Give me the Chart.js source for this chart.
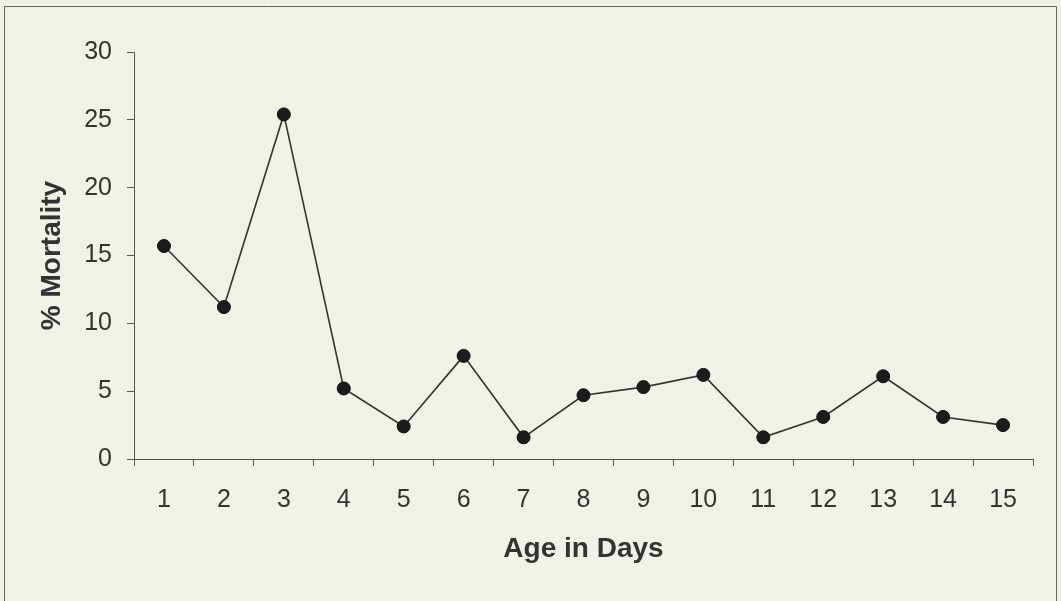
<!DOCTYPE html>
<html>
<head>
<meta charset="utf-8">
<script src="https://cdn.jsdelivr.net/npm/chart.js@4"></script>
<style>
  html, body { margin: 0; padding: 0; background: #f1f1e7; }
  #wrap { width: 1061px; height: 601px; position: relative; }
</style>
</head>
<body>
<div id="wrap"><canvas id="myChart"></canvas></div>
<script>
const days = ["1","2","3","4","5","6","7","8","9","10","11","12","13","14","15"];
const mortality = [15.7, 11.2, 25.4, 5.2, 2.4, 7.6, 1.6, 4.7, 5.3, 6.2, 1.6, 3.1, 6.1, 3.1, 2.5];
const yTicks = [0, 5, 10, 15, 20, 25, 30];

const axisColor = "#555";
const textColor = "#333";

// frame around the whole chart (left, top, right edges only)
const framePlugin = {
  id: "frame",
  beforeDraw(chart) {
    const ctx = chart.ctx;
    ctx.save();
    ctx.fillStyle = "#f1f1e7";
    ctx.fillRect(0, 0, chart.width, chart.height);
    ctx.strokeStyle = "#666";
    ctx.lineWidth = 1;
    ctx.beginPath();
    ctx.moveTo(4.5, chart.height);
    ctx.lineTo(4.5, 6.5);
    ctx.lineTo(1056.5, 6.5);
    ctx.lineTo(1056.5, chart.height);
    ctx.stroke();
    ctx.restore();
  }
};

new Chart("myChart", {
  type: "line",
  data: {
    labels: days,
    datasets: [{
      data: mortality,
      borderColor: "#333",
      borderWidth: 1.6,
      pointRadius: 6.5,
      pointBackgroundColor: "#1c1c1c",
      pointBorderColor: "#111",
      pointBorderWidth: 1,
      tension: 0,
      fill: false
    }]
  },
  options: {
    responsive: true,
    maintainAspectRatio: false,
    animation: false,
    layout: { padding: { top: 52, right: 28, bottom: 34, left: 0 } },
    plugins: {
      legend: { display: false },
      tooltip: { enabled: false }
    },
    scales: {
      x: {
        offset: true,
        afterFit: scale => { scale.height = 108; },
        grid: { offset: true, drawOnChartArea: false, drawTicks: true, tickLength: 7, color: axisColor },
        border: { display: true, color: axisColor, width: 1 },
        ticks: {
          color: textColor, autoSkip: false, maxRotation: 0, padding: 19,
          font: { family: "'Liberation Sans', Arial, sans-serif", size: 25 }
        },
        title: {
          display: true, text: "Age in Days", color: textColor,
          padding: { top: 0, bottom: 1 },
          font: { family: "'Liberation Sans', Arial, sans-serif", size: 28, weight: "bold" }
        }
      },
      y: {
        min: 0,
        max: 30,
        afterFit: scale => { scale.width = 134; },
        afterBuildTicks: scale => { scale.ticks = yTicks.map(v => ({ value: v })); },
        grid: { drawOnChartArea: false, drawTicks: true, tickLength: 7, color: axisColor },
        border: { display: true, color: axisColor, width: 1 },
        ticks: {
          color: textColor, padding: 15,
          font: { family: "'Liberation Sans', Arial, sans-serif", size: 25 }
        },
        title: {
          display: true, text: "% Mortality", color: textColor,
          padding: { top: 35, bottom: 0 },
          font: { family: "'Liberation Sans', Arial, sans-serif", size: 28, weight: "bold" }
        }
      }
    }
  },
  plugins: [framePlugin]
});
</script>
</body>
</html>
